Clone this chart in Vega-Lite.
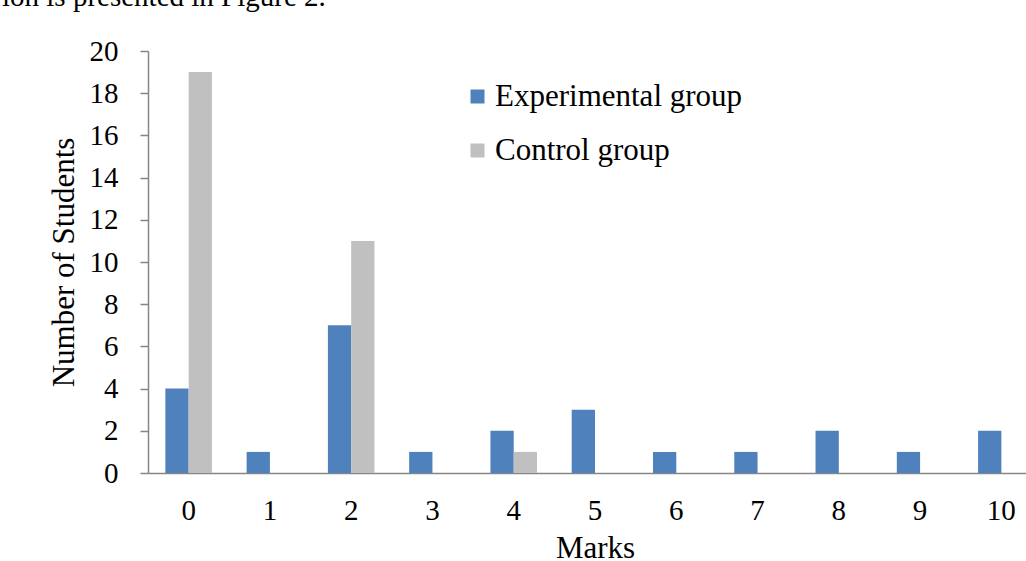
{
  "$schema": "https://vega.github.io/schema/vega-lite/v6.json",
  "autosize": {"type": "none"},
  "padding": {"left": 148, "top": 51, "right": 0, "bottom": 88},
  "width": 878,
  "height": 422,
  "background": "white",
  "title": {
    "text": "ion is presented in Figure 2.",
    "anchor": "start",
    "frame": "group",
    "orient": "top",
    "baseline": "alphabetic",
    "offset": 0,
    "dx": -146,
    "dy": -2,
    "font": "Liberation Serif",
    "fontSize": 29,
    "fontWeight": "normal",
    "color": "#000000"
  },
  "data": {
    "values": [
      {"mark": "0", "group": "Experimental group", "count": 4},
      {"mark": "0", "group": "Control group", "count": 19},
      {"mark": "1", "group": "Experimental group", "count": 1},
      {"mark": "1", "group": "Control group", "count": 0},
      {"mark": "2", "group": "Experimental group", "count": 7},
      {"mark": "2", "group": "Control group", "count": 11},
      {"mark": "3", "group": "Experimental group", "count": 1},
      {"mark": "3", "group": "Control group", "count": 0},
      {"mark": "4", "group": "Experimental group", "count": 2},
      {"mark": "4", "group": "Control group", "count": 1},
      {"mark": "5", "group": "Experimental group", "count": 3},
      {"mark": "5", "group": "Control group", "count": 0},
      {"mark": "6", "group": "Experimental group", "count": 1},
      {"mark": "6", "group": "Control group", "count": 0},
      {"mark": "7", "group": "Experimental group", "count": 1},
      {"mark": "7", "group": "Control group", "count": 0},
      {"mark": "8", "group": "Experimental group", "count": 2},
      {"mark": "8", "group": "Control group", "count": 0},
      {"mark": "9", "group": "Experimental group", "count": 1},
      {"mark": "9", "group": "Control group", "count": 0},
      {"mark": "10", "group": "Experimental group", "count": 2},
      {"mark": "10", "group": "Control group", "count": 0}
    ]
  },
  "mark": {"type": "bar"},
  "encoding": {
    "x": {
      "field": "mark",
      "type": "ordinal",
      "sort": ["0","1","2","3","4","5","6","7","8","9","10"],
      "scale": {"range": [0, 894], "paddingInner": 0.427, "paddingOuter": 0.2135},
      "axis": {
        "title": "Marks",
        "labelAngle": 0,
        "ticks": false,
        "domainColor": "#868686",
        "domainWidth": 1.5,
        "labelFont": "Liberation Serif",
        "labelFontSize": 29,
        "labelColor": "#000000",
        "labelPadding": 23,
        "titleFont": "Liberation Serif",
        "titleFontSize": 31,
        "titleFontWeight": "normal",
        "titleColor": "#000000",
        "titlePadding": 8
      }
    },
    "xOffset": {
      "field": "group",
      "type": "nominal",
      "sort": ["Experimental group", "Control group"]
    },
    "y": {
      "field": "count",
      "type": "quantitative",
      "scale": {"domain": [0, 20], "nice": false},
      "axis": {
        "title": "Number of Students",
        "values": [0,2,4,6,8,10,12,14,16,18,20],
        "grid": false,
        "domainColor": "#868686",
        "domainWidth": 1.5,
        "tickColor": "#868686",
        "tickWidth": 1.5,
        "tickSize": 8,
        "labelFont": "Liberation Serif",
        "labelFontSize": 29,
        "labelColor": "#000000",
        "labelPadding": 22,
        "titleFont": "Liberation Serif",
        "titleFontSize": 31,
        "titleFontWeight": "normal",
        "titleColor": "#000000",
        "titlePadding": 9
      }
    },
    "color": {
      "field": "group",
      "type": "nominal",
      "sort": ["Experimental group", "Control group"],
      "scale": {"domain": ["Experimental group", "Control group"], "range": ["#4F81BD", "#C0C0C0"]},
      "legend": {
        "title": null,
        "orient": "none",
        "legendX": 314,
        "legendY": 30,
        "padding": 0,
        "symbolType": "square",
        "symbolSize": 196,
        "symbolStrokeWidth": 0,
        "labelFont": "Liberation Serif",
        "labelFontSize": 31,
        "labelColor": "#000000",
        "labelOffset": 2,
        "rowPadding": 22,
        "labelLimit": 400
      }
    }
  },
  "config": {
    "view": {"stroke": null},
    "font": "Liberation Serif"
  }
}
